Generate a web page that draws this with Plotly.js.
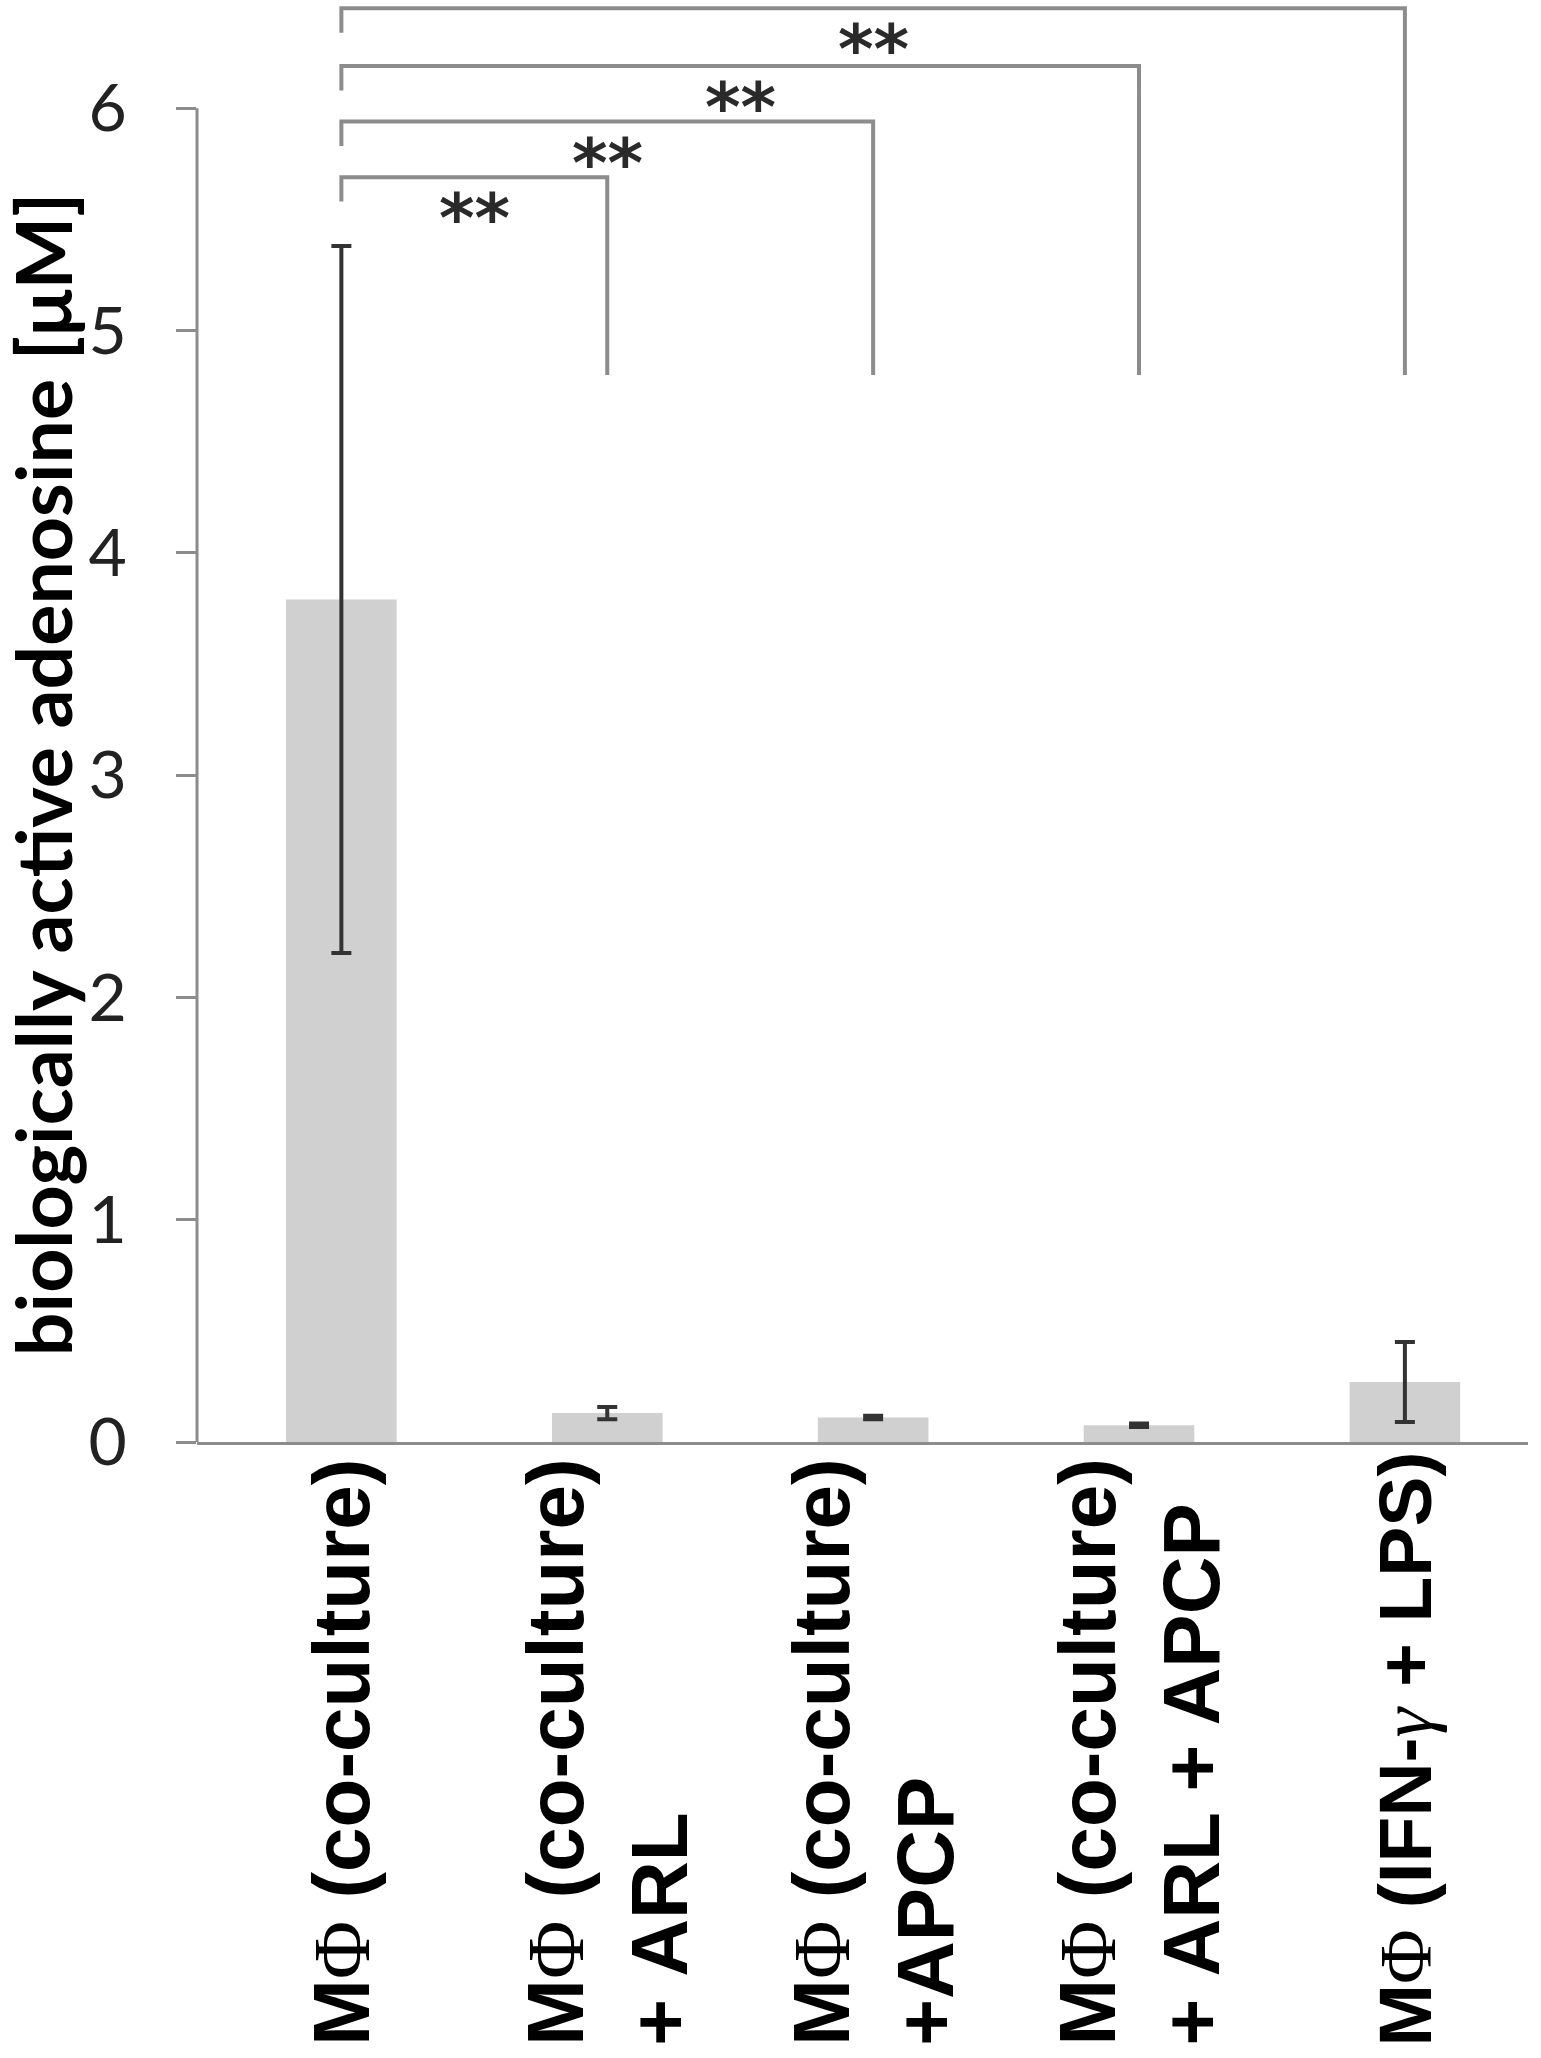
<!DOCTYPE html>
<html>
<head>
<meta charset="utf-8">
<script src="https://cdn.plot.ly/plotly-3.0.1.min.js"></script>
<style>html,body{margin:0;padding:0;background:#fff;}</style>
</head>
<body>
<div id="chart" style="width:1541px;height:2058px;"></div>
<script>
// ---- data ----
const categories = [
  "MΦ (co-culture)",
  "MΦ (co-culture)<br>+ ARL",
  "MΦ (co-culture)<br>+APCP",
  "MΦ (co-culture)<br>+ ARL + APCP",
  "MΦ (IFN-γ + LPS)"
];
const adenosine = [3.79, 0.13, 0.11, 0.075, 0.27];
const adenosineSD = [1.59, 0.028, 0.008, 0.008, 0.18];
const yTickValues = [0, 1, 2, 3, 4, 5, 6];
const yTickLabels = ["0", "1", "2", "3", "4", "5", "6"];
const comparisonRef = 0;
const comparisonTargets = [1, 2, 3, 4];
const comparisonLevels = [5.69, 5.94, 6.19, 6.45];
const comparisonLabels = ["**", "**", "**", "**"];
const comparisonBase = 4.80;
const yTitle = "biologically active adenosine [μM]";

// ---- styling helpers ----
const AXIS_GREY = "#8c8c8c";
const LABEL_SIZE = 80;
function fmt(s) {
  return s
    .replace(/Φ/g, '<span style="font-family:\'Liberation Serif\';font-weight:normal">Φ</span>')
    .replace(/γ/g, '<span style="font-family:\'Liberation Serif\';font-weight:normal;font-style:italic">γ</span>');
}

const xIdx = categories.map((_, i) => i);

const bars = {
  type: "bar",
  x: xIdx,
  y: adenosine,
  width: 0.416,
  marker: {color: "#d0d0d0", line: {width: 0}},
  error_y: {type: "data", array: adenosineSD, visible: true, color: "#333333", thickness: 4, width: 10},
  hoverinfo: "y",
  showlegend: false
};

const shapes = [];
// y axis line (from first to last tick)
shapes.push({
  type: "line", xref: "paper", yref: "y",
  x0: 0, x1: 0,
  y0: yTickValues[0], y1: yTickValues[yTickValues.length - 1],
  line: {color: AXIS_GREY, width: 3}
});
// significance brackets
comparisonTargets.forEach((t, k) => {
  const lvl = comparisonLevels[k];
  shapes.push({
    type: "path", xref: "x", yref: "y",
    path: `M ${comparisonRef},${lvl - 0.11} L ${comparisonRef},${lvl} L ${t},${lvl} L ${t},${comparisonBase}`,
    line: {color: AXIS_GREY, width: 4}
  });
});

const annotations = [];
// category labels (rotated, left aligned so all start at the bottom)
categories.forEach((c, i) => {
  annotations.push({
    x: i, xref: "x", y: 0, yref: "paper",
    xanchor: "center", yanchor: "bottom", yshift: -606,
    textangle: -90, align: "left", showarrow: false,
    text: fmt(c),
    font: {family: "Liberation Sans, Arial, sans-serif", size: LABEL_SIZE, weight: "bold", color: "#000"}
  });
});
// stars
comparisonTargets.forEach((t, k) => {
  annotations.push({
    x: (comparisonRef + t) / 2, xref: "x",
    y: comparisonLevels[k], yref: "y",
    xanchor: "center", yanchor: "top", yshift: 0,
    showarrow: false, text: comparisonLabels[k],
    font: {family: "DejaVu Sans", size: 68, weight: "bold", color: "#2a2a2a"}
  });
});
// y axis title
annotations.push({
  x: 0, xref: "paper", xanchor: "center", xshift: -155,
  y: (yTickValues[0] + yTickValues[yTickValues.length - 1]) / 2, yref: "y",
  textangle: -90, showarrow: false,
  text: yTitle,
  font: {family: "Lato, sans-serif", size: 77, weight: "bold", color: "#000"}
});

const layout = {
  width: 1541, height: 2058,
  margin: {l: 197, r: 13, t: 2, b: 616},
  paper_bgcolor: "#fff", plot_bgcolor: "#fff",
  showlegend: false,
  xaxis: {
    range: [-0.543, 4.463],
    showgrid: false, zeroline: false,
    showline: true, linecolor: AXIS_GREY, linewidth: 3,
    ticks: "", showticklabels: false, fixedrange: true
  },
  yaxis: {
    range: [0, 6.478],
    tickvals: yTickValues, ticktext: yTickLabels,
    ticks: "outside", ticklen: 20, tickwidth: 3, tickcolor: AXIS_GREY,
    ticklabelstandoff: 36,
    tickfont: {family: "Lato, sans-serif", size: 66, color: "#222"},
    showgrid: false, zeroline: false, showline: false, fixedrange: true
  },
  shapes: shapes,
  annotations: annotations
};

Plotly.newPlot("chart", [bars], layout, {displayModeBar: false, staticPlot: true}).then(gd => {
  // shrink any category label that would run into the x axis
  const s = gd._fullLayout._size;
  const axisY = s.t + s.h + 8;
  const groups = gd.querySelectorAll(".annotation");
  const updates = {};
  categories.forEach((c, i) => {
    const r = groups[i].getBoundingClientRect();
    if (r.top < axisY) {
      const scale = (r.bottom - axisY) / (r.bottom - r.top);
      updates[`annotations[${i}].font.size`] = Math.floor(LABEL_SIZE * scale);
    }
  });
  if (Object.keys(updates).length) return Plotly.relayout(gd, updates);
});
</script>
</body>
</html>
